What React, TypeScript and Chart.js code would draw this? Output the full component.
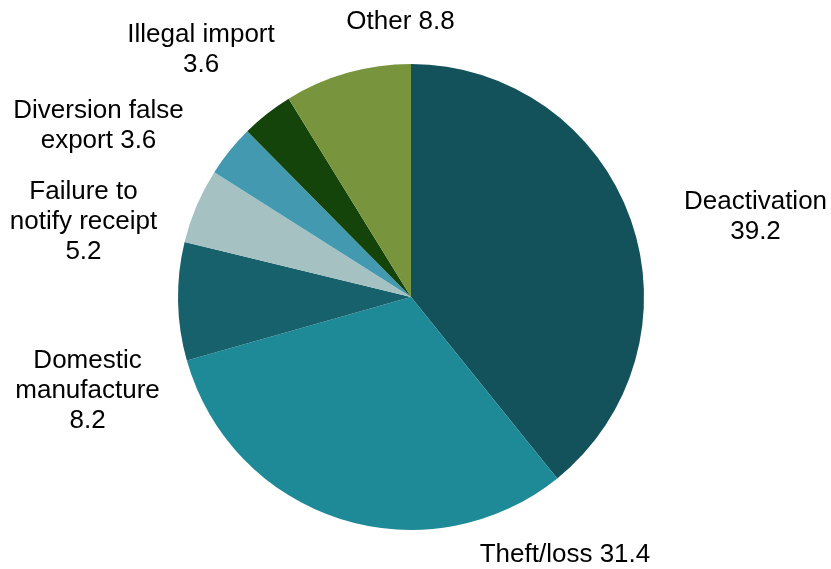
import React, { useEffect, useRef } from "react";
import { Chart, registerables } from "chart.js";

Chart.register(...registerables);

// ---- data ----
const categories = [
  "Deactivation",
  "Theft/loss",
  "Domestic manufacture",
  "Failure to notify receipt",
  "Diversion false export",
  "Illegal import",
  "Other",
];
const values = [39.2, 31.4, 8.2, 5.2, 3.6, 3.6, 8.8];
// label text lines (the value is appended from `values`)
const labelLines = [
  ["Deactivation", "{v}"],
  ["Theft/loss {v}"],
  ["Domestic", "manufacture", "{v}"],
  ["Failure to", "notify receipt", "{v}"],
  ["Diversion false", "export {v}"],
  ["Illegal import", "{v}"],
  ["Other {v}"],
];

// ---- styles / layout ----
const colors = ["#13525B", "#1E8A98", "#17616D", "#A6C1C1", "#4399AF", "#14440A", "#78953E"];
// label nudges relative to the slice's outer edge at its mid-angle
const labelNudge: [number, number][] = [
  [124.8, -2.5],
  [224.6, 36],
  [-90.5, 89.6],
  [-113.1, 16.2],
  [-131.1, -24.8],
  [-66, -63.8],
  [53.1, -50.9],
];
const FONT = '26px "Liberation Sans", Arial, sans-serif';
const LINE_H = 30;

const labelPlugin = {
  id: "sliceLabels",
  afterDatasetsDraw(chart: any) {
    const ctx = chart.ctx;
    const meta = chart.getDatasetMeta(0);
    ctx.save();
    ctx.font = FONT;
    ctx.fillStyle = "#000";
    ctx.textAlign = "center";
    ctx.textBaseline = "middle";
    meta.data.forEach((arc: any, i: number) => {
      const { x, y, startAngle, endAngle, outerRadius } = arc.getProps(
        ["x", "y", "startAngle", "endAngle", "outerRadius"],
        true
      );
      const mid = (startAngle + endAngle) / 2;
      const ex = x + Math.cos(mid) * outerRadius;
      const ey = y + Math.sin(mid) * outerRadius;
      const cx = ex + labelNudge[i][0];
      const cy = ey + labelNudge[i][1];
      const lines = labelLines[i].map((l) => l.replace("{v}", values[i].toFixed(1)));
      lines.forEach((line, k) => {
        ctx.fillText(line, cx, cy + (k - (lines.length - 1) / 2) * LINE_H);
      });
    });
    ctx.restore();
  },
};

export default function App() {
  const ref = useRef<HTMLCanvasElement | null>(null);
  useEffect(() => {
    document.body.style.margin = "0";
    const chart = new Chart(ref.current as HTMLCanvasElement, {
      type: "pie",
      data: {
        labels: categories,
        datasets: [
          {
            data: values,
            backgroundColor: colors,
            borderWidth: 0,
            hoverOffset: 0,
          },
        ],
      },
      options: {
        responsive: false,
        animation: false,
        devicePixelRatio: 1,
        layout: { padding: { top: 64, bottom: 39, left: 178, right: 187 } },
        plugins: {
          legend: { display: false },
          tooltip: { enabled: false },
        },
        events: [],
      },
      plugins: [labelPlugin],
    });
    return () => chart.destroy();
  }, []);
  return (
    <div style={{ position: "absolute", left: 0, top: 0, width: 831, height: 569, background: "#fff" }}>
      <canvas ref={ref} width={831} height={569} />
    </div>
  );
}
